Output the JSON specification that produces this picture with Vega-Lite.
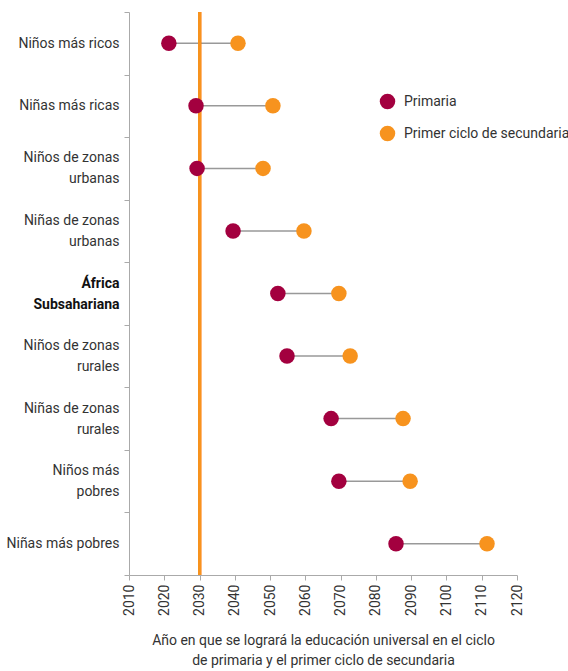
{
  "$schema": "https://vega.github.io/schema/vega-lite/v6.json",
  "autosize": "none",
  "width": 388,
  "height": 563,
  "padding": {"left": 129, "top": 12, "right": 51, "bottom": 96},
  "background": "white",
  "config": {
    "view": {"stroke": null},
    "font": "Roboto",
    "axis": {"labelColor": "#333333", "titleColor": "#333333", "labelFont": "Roboto", "titleFont": "Roboto", "labelFontSize": 14, "titleFontSize": 14, "titleFontWeight": "normal", "domainColor": "#aaaaaa", "tickColor": "#aaaaaa", "grid": false}
  },
  "data": {
    "values": [
      {"grupo": "Niños más ricos", "nivel": "Primaria", "anio": 2021.3},
      {"grupo": "Niños más ricos", "nivel": "Primer ciclo de secundaria", "anio": 2040.9},
      {"grupo": "Niñas más ricas", "nivel": "Primaria", "anio": 2029.0},
      {"grupo": "Niñas más ricas", "nivel": "Primer ciclo de secundaria", "anio": 2050.8},
      {"grupo": "Niños de zonas urbanas", "nivel": "Primaria", "anio": 2029.3},
      {"grupo": "Niños de zonas urbanas", "nivel": "Primer ciclo de secundaria", "anio": 2048.0},
      {"grupo": "Niñas de zonas urbanas", "nivel": "Primaria", "anio": 2039.5},
      {"grupo": "Niñas de zonas urbanas", "nivel": "Primer ciclo de secundaria", "anio": 2059.6},
      {"grupo": "África Subsahariana", "nivel": "Primaria", "anio": 2052.2},
      {"grupo": "África Subsahariana", "nivel": "Primer ciclo de secundaria", "anio": 2069.5},
      {"grupo": "Niños de zonas rurales", "nivel": "Primaria", "anio": 2054.8},
      {"grupo": "Niños de zonas rurales", "nivel": "Primer ciclo de secundaria", "anio": 2072.7},
      {"grupo": "Niñas de zonas rurales", "nivel": "Primaria", "anio": 2067.3},
      {"grupo": "Niñas de zonas rurales", "nivel": "Primer ciclo de secundaria", "anio": 2087.7},
      {"grupo": "Niños más pobres", "nivel": "Primaria", "anio": 2069.5},
      {"grupo": "Niños más pobres", "nivel": "Primer ciclo de secundaria", "anio": 2089.7},
      {"grupo": "Niñas más pobres", "nivel": "Primaria", "anio": 2085.7},
      {"grupo": "Niñas más pobres", "nivel": "Primer ciclo de secundaria", "anio": 2111.5}
    ]
  },
  "encoding": {
    "y": {
      "field": "grupo", "type": "nominal",
      "sort": ["Niños más ricos", "Niñas más ricas", "Niños de zonas urbanas", "Niñas de zonas urbanas", "África Subsahariana", "Niños de zonas rurales", "Niñas de zonas rurales", "Niños más pobres", "Niñas más pobres"],
      "axis": {
        "title": null,
        "tickBand": "extent",
        "tickSize": 5,
        "labelPadding": 5,
        "labelLineHeight": 21,
        "labelLimit": 200,
        "labelOffset": {"condition": {"test": "indexof(['Niños más ricos', 'Niñas más ricas', 'Niñas más pobres'], datum.value) >= 0", "value": 0}, "value": -10.5},
        "labelFontWeight": {"condition": {"test": "datum.value == 'África Subsahariana'", "value": "bold"}, "value": "normal"},
        "labelColor": {"condition": {"test": "datum.value == 'África Subsahariana'", "value": "#111111"}, "value": "#333333"},
        "labelExpr": "datum.value == 'Niños de zonas urbanas' ? ['Niños de zonas', 'urbanas'] : datum.value == 'Niñas de zonas urbanas' ? ['Niñas de zonas', 'urbanas'] : datum.value == 'África Subsahariana' ? ['África', 'Subsahariana'] : datum.value == 'Niños de zonas rurales' ? ['Niños de zonas', 'rurales'] : datum.value == 'Niñas de zonas rurales' ? ['Niñas de zonas', 'rurales'] : datum.value == 'Niños más pobres' ? ['Niños más', 'pobres'] : datum.value"
      }
    },
    "x": {
      "field": "anio", "type": "quantitative",
      "scale": {"domain": [2010, 2120], "nice": false, "zero": false},
      "axis": {
        "values": [2010, 2020, 2030, 2040, 2050, 2060, 2070, 2080, 2090, 2100, 2110, 2120],
        "format": "d",
        "labelAngle": -90,
        "labelOverlap": false,
        "labelBound": false,
        "tickSize": 5,
        "labelPadding": 4,
        "title": ["Año en que se logrará la educación universal en el ciclo", "de primaria y el primer ciclo de secundaria"],
        "titlePadding": 18,
        "titleLineHeight": 20
      }
    }
  },
  "layer": [
    {
      "mark": {"type": "line", "color": "#999999", "strokeWidth": 1.5},
      "encoding": {
        "detail": {"field": "grupo"}
      }
    },
    {
      "mark": {"type": "rule", "color": "#F7931E", "strokeWidth": 3},
      "encoding": {
        "x": {"datum": 2030, "type": "quantitative"},
        "y": null
      }
    },
    {
      "mark": {"type": "circle", "opacity": 1, "size": 240},
      "encoding": {
        "color": {
          "field": "nivel", "type": "nominal",
          "scale": {"domain": ["Primaria", "Primer ciclo de secundaria"], "range": ["#A3003F", "#F7931E"]},
          "legend": {
            "title": null,
            "orient": "none",
            "legendX": 250,
            "legendY": 81,
            "symbolType": "circle",
            "symbolSize": 240,
            "symbolOpacity": 1,
            "labelFontSize": 14,
            "labelFont": "Roboto",
            "labelColor": "#333333",
            "labelLimit": 300,
            "rowPadding": 15,
            "labelOffset": 8
          }
        }
      }
    }
  ]
}
